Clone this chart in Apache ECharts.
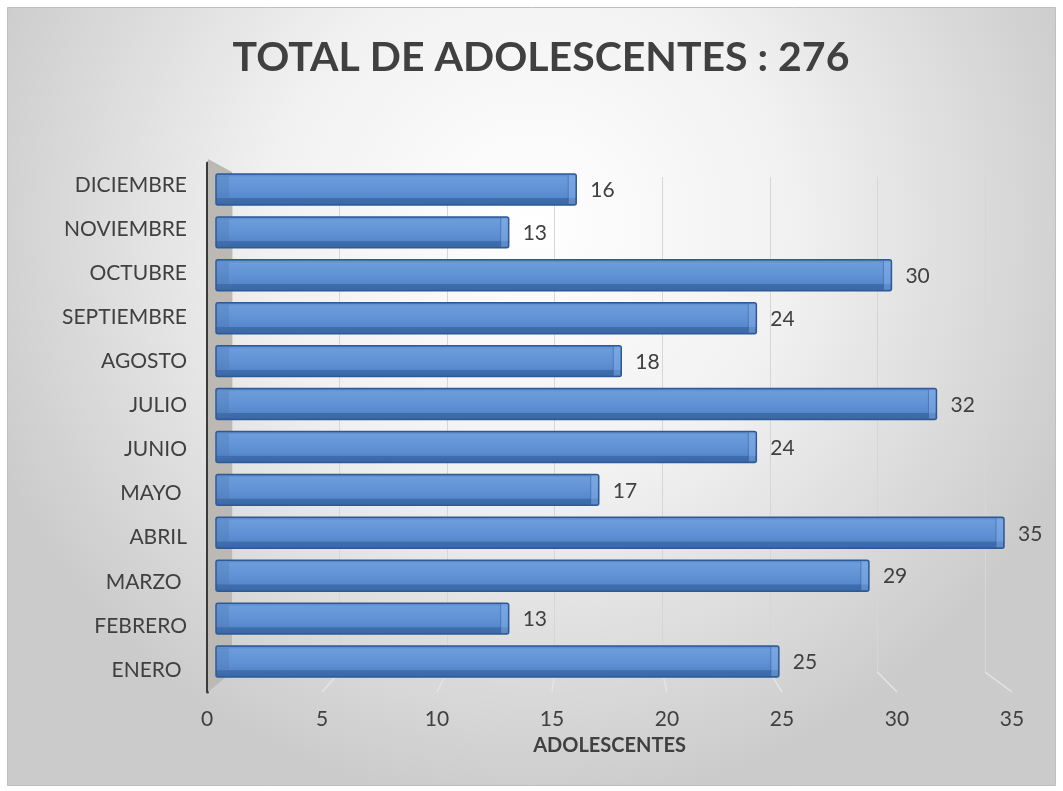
<!DOCTYPE html>
<html><head><meta charset="utf-8">
<script src="https://cdn.jsdelivr.net/npm/echarts@6/dist/echarts.min.js"></script>
<style>html,body{margin:0;padding:0;background:#fff}#c{width:1063px;height:791px}</style>
</head><body><div id="c"></div>
<script>
const categories = ['ENERO ','FEBRERO','MARZO ','ABRIL','MAYO ','JUNIO','JULIO','AGOSTO','SEPTIEMBRE','OCTUBRE','NOVIEMBRE','DICIEMBRE'];
const values = [25, 13, 29, 35, 17, 24, 32, 18, 24, 30, 13, 16];
const axisMin = 0, axisMax = 35, axisStep = 5;
const titleText = 'TOTAL DE ADOLESCENTES : 276';
const axisName = 'ADOLESCENTES';

const FONT = 'Lato';
const TXT = '#404040';

// layout (front bars, back wall grid, front label plane)
const G_BAR = {left: 216, right: 59, top: 168, height: 515};
const G_BACK = {left: 232, right: 78, top: 177, height: 495};
const G_FRONT = {left: 207, right: 51, top: 163, height: 529};

const chart = echarts.init(document.getElementById('c'), null, {renderer: 'canvas'});

function renderBar(params, api) {
  const v = api.value(0), idx = api.value(1);
  const s = api.coord([0, idx]);
  const e = api.coord([v, idx]);
  const band = api.size([0, 1])[1];
  const h = band * 0.72;
  const y0 = s[1] - h / 2;
  const w = e[0] - s[0];
  const cap = 8;
  const grad = new echarts.graphic.LinearGradient(0, 0, 0, 1, [
    {offset: 0, color: '#4e7ec0'},
    {offset: 0.12, color: '#6c9cdb'},
    {offset: 0.5, color: '#6192d5'},
    {offset: 0.76, color: '#5888cc'},
    {offset: 0.78, color: '#3f6eae'},
    {offset: 1, color: '#3a66a3'}
  ]);
  return {
    type: 'group',
    children: [
      {type: 'rect', shape: {x: s[0], y: y0, width: w, height: h, r: 2},
        style: {fill: grad, stroke: '#2c5a97', lineWidth: 1.5}},
      {type: 'rect', shape: {x: s[0] + 1, y: y0 + 2, width: 12, height: h - 4},
        style: {fill: 'rgba(70,110,170,0.25)'}},
      {type: 'rect', shape: {x: e[0] - cap, y: y0 + 1, width: cap - 1, height: h - 2},
        style: {fill: 'rgba(140,180,235,0.45)'}},
      {type: 'line', shape: {x1: e[0] - cap, y1: y0 + 1, x2: e[0] - cap, y2: y0 + h - 1},
        style: {stroke: 'rgba(44,90,151,0.5)', lineWidth: 1}},
      {type: 'text', style: {text: String(v), x: e[0] + 14, y: s[1] + 1, verticalAlign: 'middle',
        fill: TXT, font: '21px ' + FONT}}
    ]
  };
}

const option = {
  animation: false,
  title: {
    text: titleText, left: 536, textAlign: 'center', top: 32,
    textStyle: {fontFamily: FONT, fontWeight: 'bold', fontSize: 41, color: TXT}
  },
  grid: [
    Object.assign({outerBoundsMode: 'none'}, G_BAR),
    Object.assign({outerBoundsMode: 'none'}, G_BACK),
    Object.assign({outerBoundsMode: 'none'}, G_FRONT)
  ],
  xAxis: [
    {type: 'value', gridIndex: 0, min: axisMin, max: axisMax, interval: axisStep, show: false},
    {type: 'value', gridIndex: 1, min: axisMin, max: axisMax, interval: axisStep,
      axisLine: {show: false}, axisTick: {show: false}, axisLabel: {show: false},
      splitLine: {show: true, lineStyle: {color: '#d6d6d6', width: 1}}},
    {type: 'value', gridIndex: 2, min: axisMin, max: axisMax, interval: axisStep,
      axisLine: {show: false}, axisTick: {show: false}, splitLine: {show: false},
      axisLabel: {margin: 17, color: TXT, fontFamily: FONT, fontSize: 21},
      name: axisName, nameLocation: 'middle', nameGap: 44,
      nameTextStyle: {color: TXT, fontFamily: FONT, fontSize: 20, fontWeight: 'bold'}}
  ],
  yAxis: [
    {type: 'category', gridIndex: 0, data: categories, show: false},
    {type: 'value', gridIndex: 1, min: 0, max: 1, show: false},
    {type: 'category', gridIndex: 2, data: categories,
      axisLine: {show: true, lineStyle: {color: '#3a3a3a', width: 3}},
      axisTick: {show: false}, splitLine: {show: false},
      axisLabel: {margin: 20, color: TXT, fontFamily: FONT, fontSize: 21}}
  ],
  series: [
    {type: 'custom', xAxisIndex: 0, yAxisIndex: 0, renderItem: renderBar,
      encode: {x: 0, y: 1}, data: values.map((v, i) => [v, i]), z: 5}
  ]
};
chart.setOption(option);

// decorative background, side wall and floor perspective lines
const W = 1063, H = 791;
const gfx = [{
  type: 'rect', z: -10, silent: true,
  shape: {x: 7.5, y: 7.5, width: W - 15, height: H - 13},
  style: {
    fill: new echarts.graphic.RadialGradient(0.5, 0.28, 0.75, [
      {offset: 0, color: '#ffffff'}, {offset: 0.45, color: '#f1f1f1'}, {offset: 1, color: '#cbcbcb'}
    ]),
    stroke: '#bfbfbf', lineWidth: 1
  }
}];
const backBottom = G_BACK.top + G_BACK.height;
const frontBottom = G_FRONT.top + G_FRONT.height;
const xb0 = chart.convertToPixel({xAxisIndex: 1}, axisMin);
const xf0 = chart.convertToPixel({xAxisIndex: 2}, axisMin);
gfx.push({
  type: 'polygon', z: 1, silent: true,
  shape: {points: [[xf0 + 1, G_FRONT.top - 4], [xb0, G_BACK.top - 5], [xb0, backBottom], [xf0 + 1, frontBottom]]},
  style: {fill: '#bcb8b3'}
});
for (let t = axisMin + axisStep; t <= axisMax; t += axisStep) {
  const xb = chart.convertToPixel({xAxisIndex: 1}, t);
  const xf = chart.convertToPixel({xAxisIndex: 2}, t);
  gfx.push({type: 'line', z: 1, silent: true,
    shape: {x1: xb, y1: backBottom, x2: xf, y2: frontBottom},
    style: {stroke: '#e4e4e4', lineWidth: 1.5}});
}
chart.setOption({graphic: gfx});
</script></body></html>
